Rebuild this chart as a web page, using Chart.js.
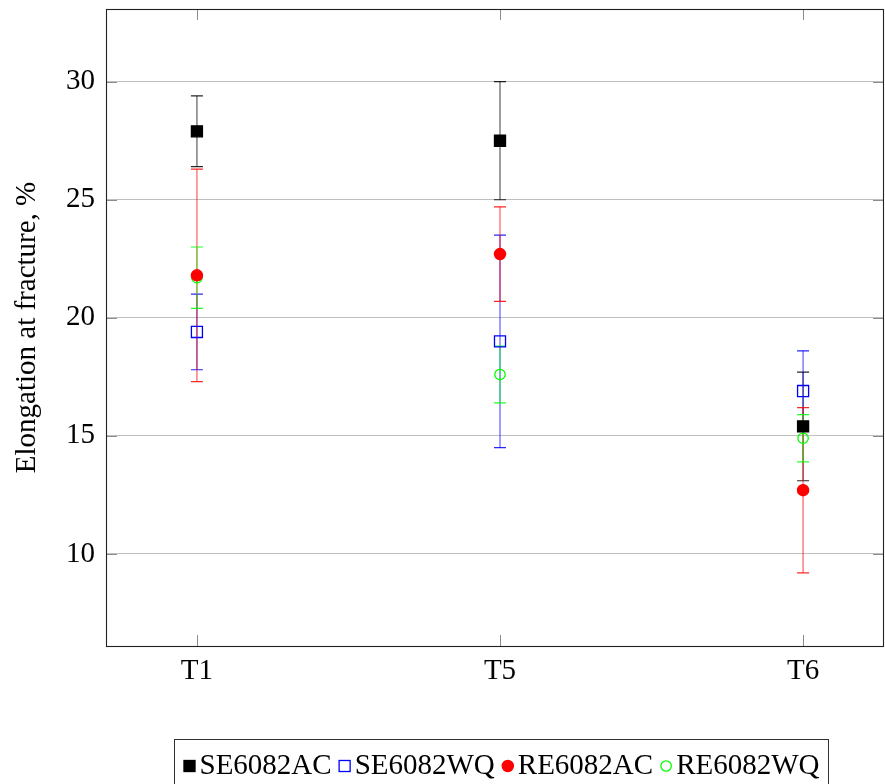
<!DOCTYPE html>
<html>
<head>
<meta charset="utf-8">
<script src="https://cdn.jsdelivr.net/npm/chart.js@4.4.1/dist/chart.umd.min.js"></script>
<style>
	html, body { margin: 0; padding: 0; background: #fff; }
	#wrap { width: 885px; height: 784px; }
</style>
</head>
<body>
<div id="wrap"><canvas id="chart" width="885" height="784"></canvas></div>
<script>
// elongation at fracture per temper, mean values and +/- deviation
const CATEGORIES = ['T1', 'T5', 'T6'];
const Y_TICKS = [10, 15, 20, 25, 30];

const SE_AC = [27.9, 27.5, 15.4];
const SE_AC_ERR = [1.5, 2.5, 2.3];
const SE_WQ = [19.4, 19.0, 16.9];
const SE_WQ_ERR = [1.6, 4.5, 1.7];
const RE_AC = [21.8, 22.7, 12.7];
const RE_AC_ERR = [4.5, 2.0, 3.5];
const RE_WQ = [21.7, 17.6, 14.9];
const RE_WQ_ERR = [1.3, 1.2, 1.0];

const FONT = "'Liberation Serif', 'Times New Roman', serif";

function points(values, errors) {
	return values.map((v, i) => ({ x: i, y: v, err: errors[i] }));
}

function make_dataset(label, values, errors, opts) {
	return Object.assign({
		label: label,
		data: points(values, errors),
		showLine: false,
		borderWidth: 1.3,
		pointBorderWidth: 1.3,
		pointHoverRadius: 0
	}, opts);
}

const datasets = [
	make_dataset('SE6082AC', SE_AC, SE_AC_ERR, {
		pointStyle: 'rect', pointRadius: 7.8,
		backgroundColor: '#000', borderColor: '#000', errColor: '0,0,0'
	}),
	make_dataset('SE6082WQ', SE_WQ, SE_WQ_ERR, {
		pointStyle: 'rect', pointRadius: 7.8,
		backgroundColor: 'rgba(255,255,255,0)', borderColor: '#0000ff', errColor: '0,0,255'
	}),
	make_dataset('RE6082AC', RE_AC, RE_AC_ERR, {
		pointStyle: 'circle', pointRadius: 5.6,
		backgroundColor: '#ff0000', borderColor: '#ff0000', errColor: '255,0,0'
	}),
	make_dataset('RE6082WQ', RE_WQ, RE_WQ_ERR, {
		pointStyle: 'circle', pointRadius: 5.2,
		backgroundColor: 'rgba(255,255,255,0)', borderColor: '#00ff00', errColor: '0,255,0'
	})
];

// vertical error bars with caps, drawn under the markers
const errorBars = {
	id: 'errorBars',
	beforeDatasetsDraw(chart) {
		const ctx = chart.ctx;
		const xs = chart.scales.x, ys = chart.scales.y;
		ctx.save();
		chart.data.datasets.forEach(ds => {
			ds.data.forEach(p => {
				const x = xs.getPixelForValue(p.x);
				const top = ys.getPixelForValue(p.y + p.err);
				const bot = ys.getPixelForValue(p.y - p.err);
				ctx.strokeStyle = 'rgba(' + ds.errColor + ',0.55)';
				ctx.lineWidth = 1.4;
				ctx.beginPath();
				ctx.moveTo(x, top);
				ctx.lineTo(x, bot);
				ctx.stroke();
				ctx.strokeStyle = 'rgba(' + ds.errColor + ',0.85)';
				ctx.lineWidth = 1.2;
				ctx.beginPath();
				ctx.moveTo(x - 6, top); ctx.lineTo(x + 6, top);
				ctx.moveTo(x - 6, bot); ctx.lineTo(x + 6, bot);
				ctx.stroke();
			});
		});
		ctx.restore();
	}
};

// axis frame and inward tick marks on all four sides
const frame = {
	id: 'frame',
	afterDatasetsDraw(chart) {
		const ctx = chart.ctx;
		const a = chart.chartArea;
		const xs = chart.scales.x, ys = chart.scales.y;
		ctx.save();
		ctx.strokeStyle = 'rgba(0,0,0,0.45)';
		ctx.lineWidth = 1;
		ctx.beginPath();
		xs.ticks.forEach(t => {
			const x = Math.round(xs.getPixelForValue(t.value)) + 0.5;
			ctx.moveTo(x, a.bottom); ctx.lineTo(x, a.bottom - 11);
			ctx.moveTo(x, a.top); ctx.lineTo(x, a.top + 11);
		});
		ys.ticks.forEach(t => {
			const y = Math.round(ys.getPixelForValue(t.value)) + 0.5;
			ctx.moveTo(a.left, y); ctx.lineTo(a.left + 11, y);
			ctx.moveTo(a.right, y); ctx.lineTo(a.right - 11, y);
		});
		ctx.stroke();
		ctx.strokeStyle = '#222';
		ctx.lineWidth = 1.1;
		ctx.strokeRect(Math.round(a.left) + 0.5, Math.round(a.top) + 0.5,
			Math.round(a.right - a.left) - 1, Math.round(a.bottom - a.top));
		ctx.restore();
	}
};

// boxed legend row below the axis
const boxLegend = {
	id: 'boxLegend',
	afterDraw(chart) {
		const ctx = chart.ctx;
		ctx.save();
		ctx.font = '29px ' + FONT;
		ctx.textBaseline = 'middle';
		const markW = 12, gapText = 4, gapItem = 7, padX = 9;
		let total = 0;
		chart.data.datasets.forEach((ds, i) => {
			total += markW + gapText + ctx.measureText(ds.label).width;
			if (i < chart.data.datasets.length - 1) total += gapItem;
		});
		const boxW = total + padX * 2;
		const boxL = Math.round(501 - boxW / 2) + 0.5;
		const boxT = 739.5;
		const cy = 766;
		ctx.strokeStyle = '#333';
		ctx.lineWidth = 1;
		ctx.strokeRect(boxL, boxT, boxW, 80);
		let cur = boxL + padX;
		chart.data.datasets.forEach(ds => {
			const mx = cur + markW / 2;
			ctx.lineWidth = 1.3;
			ctx.strokeStyle = ds.borderColor;
			ctx.fillStyle = ds.backgroundColor;
			if (ds.pointStyle === 'rect') {
				const s = ds.pointRadius * Math.SQRT1_2;
				ctx.fillRect(mx - s, cy - s, 2 * s, 2 * s);
				ctx.strokeRect(mx - s, cy - s, 2 * s, 2 * s);
			} else {
				ctx.beginPath();
				ctx.arc(mx, cy, ds.pointRadius, 0, Math.PI * 2);
				ctx.fill();
				ctx.stroke();
			}
			cur += markW + gapText;
			ctx.fillStyle = '#000';
			ctx.fillText(ds.label, cur, cy);
			cur += ctx.measureText(ds.label).width + gapItem;
		});
		ctx.restore();
	}
};

new Chart(document.getElementById('chart'), {
	type: 'scatter',
	data: { datasets: datasets },
	plugins: [errorBars, frame, boxLegend],
	options: {
		responsive: false,
		animation: false,
		events: [],
		layout: { autoPadding: false, padding: { top: 9, right: 1, left: 0, bottom: 88 } },
		plugins: {
			legend: { display: false },
			tooltip: { enabled: false }
		},
		scales: {
			x: {
				type: 'linear',
				min: -0.30,
				max: 2.267,
				afterBuildTicks: scale => { scale.ticks = CATEGORIES.map((c, i) => ({ value: i })); },
				afterFit: scale => {
					scale.height = 50;
					scale.paddingLeft = 0;
					scale.paddingRight = 0;
				},
				grid: { display: false, drawTicks: false },
				border: { display: false },
				ticks: {
					padding: 8,
					color: '#000',
					font: { family: FONT, size: 29 },
					callback: v => CATEGORIES[v]
				}
			},
			y: {
				type: 'linear',
				min: 6.1,
				max: 33.08,
				afterBuildTicks: scale => { scale.ticks = Y_TICKS.map(v => ({ value: v })); },
				afterFit: scale => {
					scale.width = 106;
					scale.paddingTop = 0;
					scale.paddingBottom = 0;
				},
				grid: { color: 'rgba(0,0,0,0.25)', lineWidth: 1, drawTicks: false },
				border: { display: false },
				ticks: {
					padding: 11,
					color: '#000',
					font: { family: FONT, size: 29 }
				},
				title: {
					display: true,
					text: 'Elongation at fracture, %',
					color: '#000',
					font: { family: FONT, size: 29 },
					padding: { top: 10, bottom: 0 }
				}
			}
		}
	}
});
</script>
</body>
</html>
